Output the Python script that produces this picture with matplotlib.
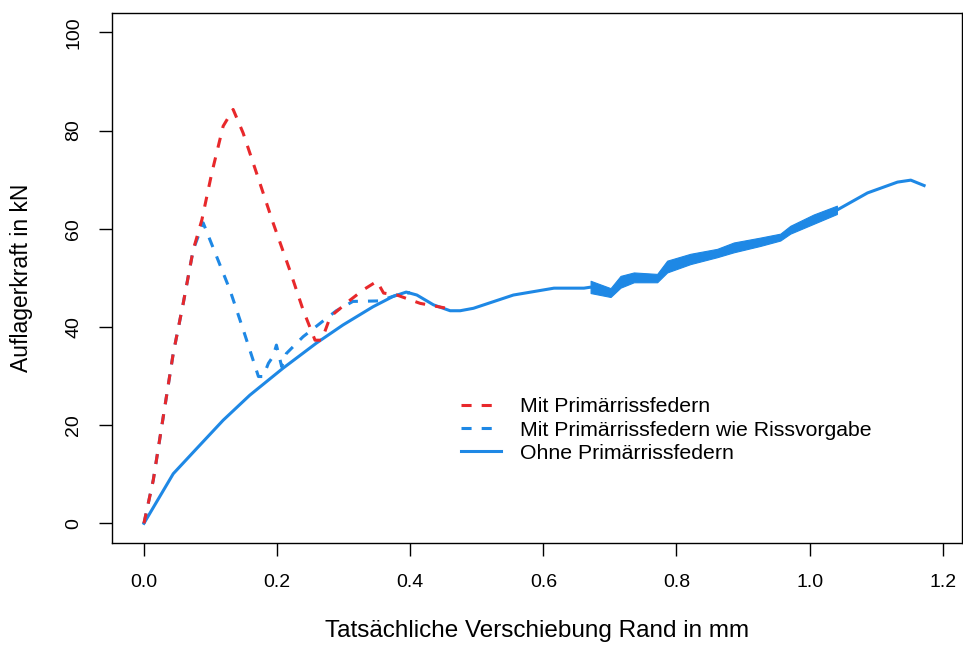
import matplotlib
matplotlib.use("Agg")
import matplotlib.pyplot as plt

plt.rcParams['font.family'] = ['Liberation Sans', 'DejaVu Sans']

# Mit Primärrissfedern (red dashed)
x_mit = [0.0, 0.014, 0.029, 0.044, 0.059, 0.074, 0.087, 0.102, 0.119, 0.134,
         0.149, 0.169, 0.194, 0.219, 0.239, 0.257, 0.267, 0.28, 0.31, 0.33,
         0.35, 0.36, 0.38, 0.415, 0.455]
y_mit = [0.0, 8.8, 21.7, 34.6, 44.8, 55.7, 61.8, 71.4, 80.9, 84.3,
         79.5, 71.4, 61.2, 51.6, 43.5, 37.3, 37.3, 42.1, 45.5, 47.6,
         49.3, 46.9, 46.5, 44.8, 43.8]

# Mit Primärrissfedern wie Rissvorgabe (blue dashed)
x_riss = [0.0, 0.014, 0.029, 0.044, 0.059, 0.074, 0.089, 0.109, 0.129, 0.149,
          0.172, 0.179, 0.187, 0.194, 0.199, 0.207, 0.214, 0.239, 0.269, 0.289,
          0.314, 0.354, 0.38, 0.40]
y_riss = [0.0, 8.8, 21.7, 34.6, 44.8, 55.7, 61.2, 54.4, 47.6, 39.5,
          29.9, 29.9, 32.6, 34.0, 36.3, 31.9, 34.6, 38.0, 41.2, 43.3,
          45.2, 45.3, 46.5, 47.0]

# Ohne Primärrissfedern (blue solid)
x_ohne = [0.0, 0.044, 0.079, 0.119, 0.159, 0.209, 0.259, 0.299, 0.344, 0.374,
          0.394, 0.41, 0.435, 0.46, 0.475, 0.495, 0.555, 0.616, 0.661, 0.671,
          0.701, 0.716, 0.736, 0.771, 0.786, 0.821, 0.861, 0.886, 0.926, 0.956,
          0.971, 1.006, 1.041, 1.087, 1.132, 1.152, 1.172]
y_ohne = [0.0, 10.1, 15.2, 21.0, 26.1, 31.6, 36.7, 40.4, 44.1, 46.2,
          47.1, 46.5, 44.5, 43.3, 43.3, 43.8, 46.5, 47.9, 47.9, 48.1,
          47.0, 49.2, 50.1, 49.9, 52.3, 53.8, 55.0, 56.2, 57.3, 58.3,
          59.8, 61.9, 63.8, 67.3, 69.5, 69.9, 68.8]

# noisy section of the solid curve (lower / upper envelope)
x_band = [0.671, 0.701, 0.716, 0.736, 0.771, 0.786, 0.821, 0.861, 0.886,
          0.926, 0.956, 0.971, 1.006, 1.041]
lo_band = [46.9, 46.1, 48.0, 49.1, 49.1, 51.1, 52.8, 54.2, 55.2,
           56.5, 57.6, 59.0, 61.0, 63.0]
hi_band = [49.4, 47.9, 50.4, 51.1, 50.8, 53.5, 54.9, 55.9, 57.2,
           58.2, 59.0, 60.6, 62.9, 64.7]

labels = ['Mit Primärrissfedern', 'Mit Primärrissfedern wie Rissvorgabe',
          'Ohne Primärrissfedern']
red = '#E8282B'
blue = '#1E88E5'

fig = plt.figure(figsize=(9.63, 6.46), dpi=100)
ax = fig.add_axes([0.1163, 0.1595, 0.8827, 0.8208])

dash = (0, (3.3, 3.3))
ax.plot(x_ohne, y_ohne, color=blue, lw=2.2, label=labels[2], zorder=2)
ax.fill_between(x_band, lo_band, hi_band, facecolor=blue, edgecolor=blue,
                lw=0.8, joinstyle='round', zorder=2)
ax.plot(x_riss, y_riss, color=blue, lw=2.2, ls=dash, label=labels[1], zorder=3)
ax.plot(x_mit, y_mit, color=red, lw=2.2, ls=dash, label=labels[0], zorder=4)

ax.set_xlim(-0.048, 1.229)
ax.set_ylim(-4, 104)
ax.set_xticks([0.0, 0.2, 0.4, 0.6, 0.8, 1.0, 1.2])
ax.set_xticklabels(['0.0', '0.2', '0.4', '0.6', '0.8', '1.0', '1.2'])
ax.set_yticks([0, 20, 40, 60, 80, 100])
ax.set_yticklabels(['0', '20', '40', '60', '80', '100'], rotation=90, va='center')
ax.tick_params(direction='out', length=9.5, width=1, labelsize=14)
ax.tick_params(axis='x', pad=13)
ax.tick_params(axis='y', pad=12)
for s in ax.spines.values():
    s.set_linewidth(1)

ax.set_xlabel('Tatsächliche Verschiebung Rand in mm', fontsize=17.5, labelpad=21)
ax.set_ylabel('Auflagerkraft in kN', fontsize=16.5, labelpad=23)

h, l = ax.get_legend_handles_labels()
order = [2, 1, 0]
ax.legend([h[i] for i in order], [l[i] for i in order], frameon=False,
          fontsize=15.3, loc='center left', bbox_to_anchor=(0.388, 0.213),
          handlelength=1.9, handletextpad=0.9, labelspacing=0.2)

fig.savefig('out.png', dpi=100)
